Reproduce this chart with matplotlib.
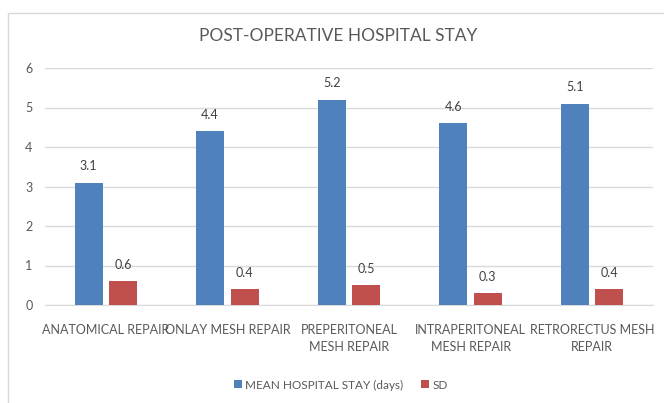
import matplotlib
matplotlib.use("Agg")
import matplotlib.pyplot as plt
import numpy as np
from matplotlib.patches import Rectangle

categories = ["ANATOMICAL REPAIR", "ONLAY MESH REPAIR", "PREPERITONEAL\nMESH REPAIR",
              "INTRAPERITONEAL\nMESH REPAIR", "RETRORECTUS MESH\nREPAIR"]
mean_stay = [3.1, 4.4, 5.2, 4.6, 5.1]
sd = [0.6, 0.4, 0.5, 0.3, 0.4]
series_names = ["MEAN HOSPITAL STAY (days)", "SD"]
yticks = [0, 1, 2, 3, 4, 5, 6]

plt.rcParams['font.family'] = ['Lato', 'DejaVu Sans']

fig = plt.figure(figsize=(6.64, 4.03), dpi=100)
fig.patches.append(Rectangle((8/664, -0.1), 1.0, 1 - 13/403 + 0.1, transform=fig.transFigure,
                             fill=False, edgecolor='#D9D9D9', linewidth=1.0, zorder=0))
ax = fig.add_axes([45/664, 1 - 305/403, 608/664, (305 - 68)/403])

x = np.arange(len(categories))
w = 0.23
off = 0.142
blue = '#4F81BD'
red = '#C0504D'
b1 = ax.bar(x - off, mean_stay, w, color=blue, label=series_names[0], zorder=3)
b2 = ax.bar(x + off, sd, w, color=red, label=series_names[1], zorder=3)

for bars, vals in ((b1, mean_stay), (b2, sd)):
    for rect, v in zip(bars, vals):
        ax.annotate(f"{v}", (rect.get_x() + rect.get_width()/2, v), xytext=(0, 7.5),
                    textcoords='offset points', ha='center', va='bottom',
                    fontsize=9, color='#404040')

ax.set_xlim(-0.5, len(categories) - 0.5)
ax.set_ylim(0, 6)
ax.set_yticks(yticks)
ax.yaxis.grid(True, color='#D9D9D9', linewidth=1.0, zorder=0)
ax.set_axisbelow(True)
for s in ('top', 'right', 'left'):
    ax.spines[s].set_visible(False)
ax.spines['bottom'].set_color('#D9D9D9')
ax.tick_params(axis='both', length=0, labelsize=9, colors='#595959')
ax.tick_params(axis='y', pad=9)
ax.tick_params(axis='x', pad=14)
ax.set_xticks(x)
ax.set_xticklabels(categories, fontsize=9, color='#595959', linespacing=1.45)

fig.text(338.5/664, 1 - 36/403, "POST-OPERATIVE HOSPITAL STAY", ha='center', va='center',
         fontsize=12.5, color='#595959')

ax.legend(loc='center', bbox_to_anchor=(341/664, 1 - 385/403), bbox_transform=fig.transFigure,
          ncol=2, frameon=False, fontsize=8.5, handlelength=0.65, handleheight=0.65,
          columnspacing=1.5, handletextpad=0.3, labelcolor='#595959')

fig.savefig("out.png", dpi=100)
